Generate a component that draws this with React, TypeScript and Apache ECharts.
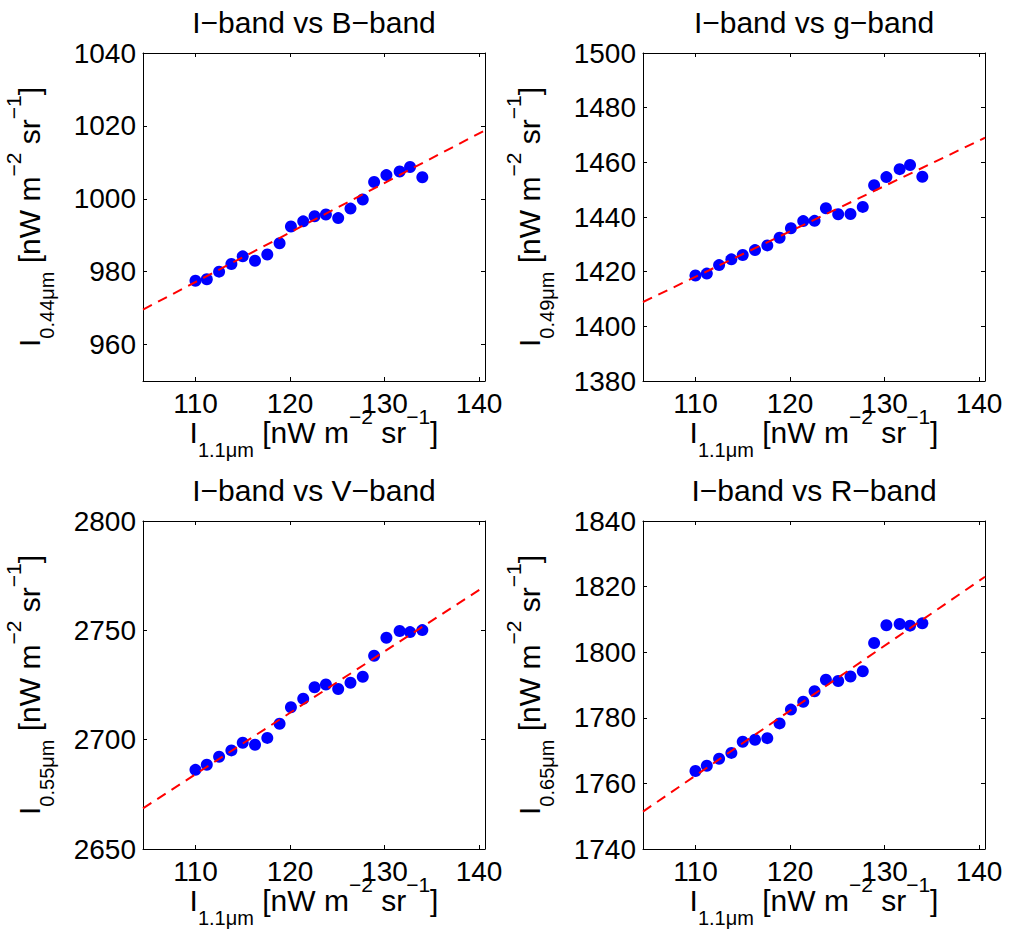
import { useEffect, useRef } from 'react';
import * as echarts from 'echarts';

// ---- data ----
const xI = [110.0, 111.2, 112.5, 113.8, 115.0, 116.3, 117.6, 118.9, 120.1, 121.4, 122.6, 123.8, 125.1, 126.4, 127.7, 128.9, 130.2, 131.6, 132.7, 134.0];
const yB = [977.5, 977.9, 980.0, 982.1, 984.2, 983.0, 984.7, 987.8, 992.4, 993.8, 995.2, 995.7, 994.7, 997.3, 999.8, 1004.6, 1006.5, 1007.5, 1008.7, 1005.9];
const yG = [1418.6, 1419.3, 1422.4, 1424.5, 1426.1, 1427.9, 1429.6, 1432.4, 1435.9, 1438.5, 1438.6, 1443.2, 1441.0, 1441.1, 1443.7, 1451.6, 1454.6, 1457.5, 1459.0, 1454.7];
const yV = [2686.2, 2688.5, 2692.2, 2695.1, 2698.6, 2697.7, 2700.8, 2707.3, 2714.8, 2718.7, 2724.0, 2725.2, 2723.2, 2726.0, 2728.8, 2738.4, 2746.6, 2749.7, 2749.2, 2750.1];
const yR = [1763.8, 1765.4, 1767.5, 1769.3, 1772.7, 1773.3, 1773.8, 1778.3, 1782.5, 1784.9, 1788.1, 1791.6, 1791.2, 1792.6, 1794.2, 1802.8, 1808.2, 1808.6, 1808.1, 1808.8];

// fitted line: values at the two ends of the x range
const xRange = [104.45, 140.63];
const fitB = [969.6, 1018.8];
const fitG = [1408.9, 1469.0];
const fitV = [2668.6, 2770.2];
const fitR = [1751.4, 1823.0];

const xTicks = [110, 120, 130, 140];
const titles = ['I−band vs B−band', 'I−band vs g−band', 'I−band vs V−band', 'I−band vs R−band'];
const ySubs = ['0.44μm', '0.49μm', '0.55μm', '0.65μm'];
const yRanges = [[950, 1040], [1380, 1500], [2650, 2800], [1740, 1840]];
const yTicksB = [960, 980, 1000, 1020, 1040];
const yTicksG = [1380, 1400, 1420, 1440, 1460, 1480, 1500];
const yTicksV = [2650, 2700, 2750, 2800];
const yTicksR = [1740, 1760, 1780, 1800, 1820, 1840];

const FONT = '"Liberation Sans", Arial, Helvetica, sans-serif';

export default function App() {
  const ref = useRef<HTMLDivElement>(null);
  useEffect(() => {
    if (!ref.current) return;
    const chart = echarts.init(ref.current, null, { renderer: 'svg' });

    const ys = [yB, yG, yV, yR];
    const fits = [fitB, fitG, fitV, fitR];
    const yTicks = [yTicksB, yTicksG, yTicksV, yTicksR];
    const lefts = [143, 643, 143, 643];
    const tops = [53, 53, 521, 521];
    const W = 342;
    const H = 328;

    const rich: any = {
      m: { fontSize: 30, fontFamily: FONT, color: '#000', verticalAlign: 'middle' },
      sub: { fontSize: 20, fontFamily: FONT, color: '#000', verticalAlign: 'middle', padding: [36, 0, 0, 0] },
      sup: { fontSize: 21, fontFamily: FONT, color: '#000', verticalAlign: 'middle', padding: [0, 0, 32, 0] },
    };
    const nm = (sub: string) => `{m|I}{sub|${sub}}{m| [nW m}{sup|−2}{m| sr}{sup|−1}{m|]}`;

    const grid: any[] = [];
    const xAxis: any[] = [];
    const yAxis: any[] = [];
    const series: any[] = [];
    const graphic: any[] = [];

    const axLine = { show: true, lineStyle: { color: '#000', width: 1 } };
    const tick = (vals: number[]) => ({ show: true, inside: true, length: 4, lineStyle: { color: '#000' }, customValues: vals });
    const fmt = (v: number) => String(v);

    for (let k = 0; k < 4; k++) {
      grid.push({ left: lefts[k], top: tops[k], width: W, height: H, containLabel: false, outerBoundsMode: 'none' });
      xAxis.push({
        type: 'value', gridIndex: k, position: 'bottom', min: xRange[0], max: xRange[1],
        axisLine: axLine, axisTick: tick(xTicks), splitLine: { show: false },
        axisLabel: { show: true, customValues: xTicks, formatter: fmt, fontSize: 28, fontFamily: FONT, color: '#000', margin: 8 },
        name: nm('1.1μm'), nameLocation: 'middle', nameGap: 23, nameMoveOverlap: false,
        nameTextStyle: { rich },
      });
      xAxis.push({
        type: 'value', gridIndex: k, position: 'top', min: xRange[0], max: xRange[1],
        axisLine: axLine, axisTick: tick(xTicks), splitLine: { show: false }, axisLabel: { show: false },
      });
      yAxis.push({
        type: 'value', gridIndex: k, position: 'left', min: yRanges[k][0], max: yRanges[k][1],
        axisLine: axLine, axisTick: tick(yTicks[k]), splitLine: { show: false },
        axisLabel: { show: true, customValues: yTicks[k], formatter: fmt, fontSize: 28, fontFamily: FONT, color: '#000', margin: 7 },
        name: nm(ySubs[k]), nameLocation: 'middle', nameGap: 86, nameRotate: 90, nameMoveOverlap: false,
        nameTextStyle: { rich },
      });
      yAxis.push({
        type: 'value', gridIndex: k, position: 'right', min: yRanges[k][0], max: yRanges[k][1],
        axisLine: axLine, axisTick: tick(yTicks[k]), splitLine: { show: false }, axisLabel: { show: false },
      });
      series.push({
        type: 'scatter', xAxisIndex: 2 * k, yAxisIndex: 2 * k,
        data: xI.map((x, i) => [x, ys[k][i]]),
        symbol: 'circle', symbolSize: 12, itemStyle: { color: '#0000ff', opacity: 1 }, z: 2,
      });
      series.push({
        type: 'line', xAxisIndex: 2 * k, yAxisIndex: 2 * k,
        data: xRange.map((x, i) => [x, fits[k][i]]),
        showSymbol: false, symbol: 'none',
        lineStyle: { color: '#ff0000', width: 2, type: [10, 7] }, z: 3,
      });
      graphic.push({
        type: 'text', x: lefts[k] + W / 2, y: tops[k] - 31,
        style: { text: titles[k], font: `30px ${FONT}`, fill: '#000', align: 'center', verticalAlign: 'middle' },
      });
    }

    chart.setOption({
      animation: false,
      backgroundColor: '#fff',
      textStyle: { fontFamily: FONT },
      grid, xAxis, yAxis, series, graphic,
    });
    return () => chart.dispose();
  }, []);
  return <div ref={ref} style={{ position: 'fixed', left: 0, top: 0, width: 1009, height: 933 }} />;
}
